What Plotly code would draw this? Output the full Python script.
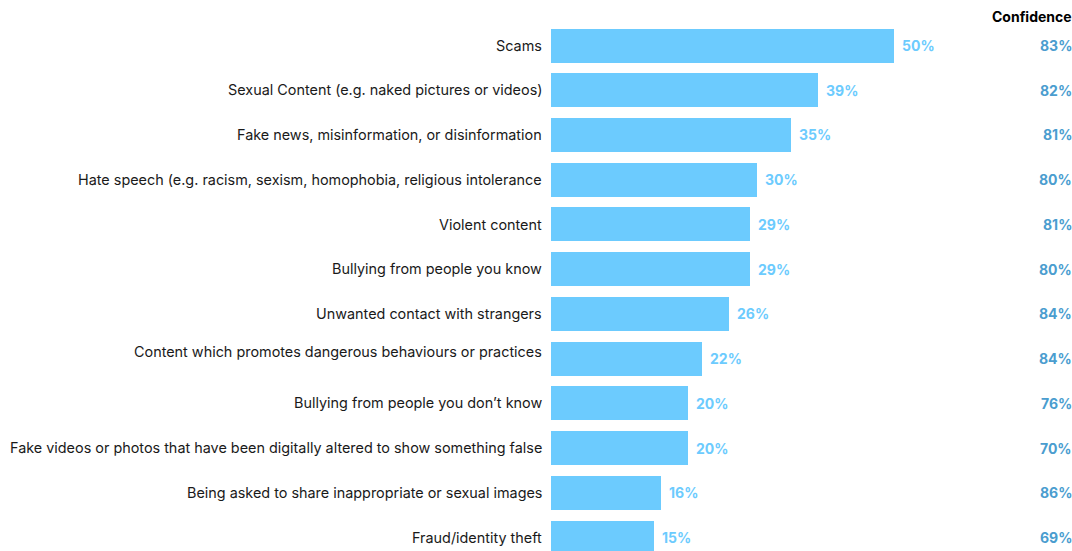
import plotly.graph_objects as go

categories = [
    "Scams",
    "Sexual Content (e.g. naked pictures or videos)",
    "Fake news, misinformation, or disinformation",
    "Hate speech (e.g. racism, sexism, homophobia, religious intolerance",
    "Violent content",
    "Bullying from people you know",
    "Unwanted contact with strangers",
    "Content which promotes dangerous behaviours or practices",
    "Bullying from people you don\u2019t know",
    "Fake videos or photos that have been digitally altered to show something false",
    "Being asked to share inappropriate or sexual images",
    "Fraud/identity theft",
]
share = [50, 39, 35, 30, 29, 29, 26, 22, 20, 20, 16, 15]
confidence = [83, 82, 81, 80, 81, 80, 84, 84, 76, 70, 86, 69]

BAR = "#6ccbfe"
CONF = "#4a9dcf"
TEXT = "#1a1a1a"
FONT = "Inter"

rows = list(range(len(categories)))

fig = go.Figure(
    go.Bar(
        x=share,
        y=rows,
        orientation="h",
        width=0.76,
        marker=dict(color=BAR, line=dict(width=0)),
        hoverinfo="skip",
    )
)

# value labels just past the end of each bar
for i, v in enumerate(share):
    fig.add_annotation(
        x=v, y=i, xref="x", yref="y", text=f"{v}%", showarrow=False,
        xanchor="left", xshift=6,
        font=dict(family=FONT, size=14, color=BAR, weight="bold"),
    )

# category labels, right-aligned against the bars
label_shift = {"Content which promotes dangerous behaviours or practices": 7}
for i, name in enumerate(categories):
    fig.add_annotation(
        x=0, y=i, xref="x", yref="y", text=name, showarrow=False,
        xanchor="right", xshift=-7, yshift=label_shift.get(name, 0),
        font=dict(family=FONT, size=14.4, color=TEXT),
    )

# confidence column on the right edge
for i, c in enumerate(confidence):
    fig.add_annotation(
        x=1.0, y=i, xref="paper", yref="y", text=f"{c}%", showarrow=False,
        xanchor="right", xshift=2,
        font=dict(family=FONT, size=14, color=CONF, weight="bold"),
    )
fig.add_annotation(
    x=1.0, y=1.0, xref="paper", yref="paper", text="Confidence", showarrow=False,
    xanchor="right", yanchor="bottom", xshift=2, yshift=-4,
    font=dict(family=FONT, size=14, color="#000000", weight="bold"),
)

fig.update_layout(
    width=1072, height=551,
    margin=dict(l=551, r=0, t=23, b=0),
    paper_bgcolor="white", plot_bgcolor="white",
    showlegend=False,
    bargap=0,
    xaxis=dict(range=[0, 76], visible=False, fixedrange=True),
    yaxis=dict(range=[11.30, -0.503], visible=False, fixedrange=True),
)

fig.write_html("out.html")
